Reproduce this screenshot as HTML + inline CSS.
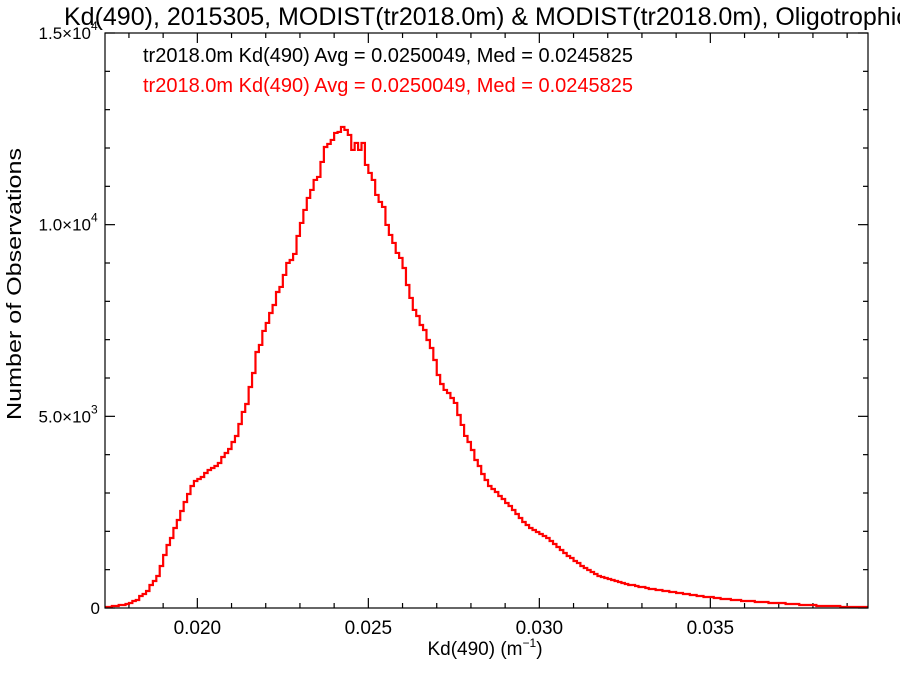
<!DOCTYPE html>
<html><head><meta charset="utf-8"><style>
html,body{margin:0;padding:0;background:#fff;overflow:hidden;}
svg{display:block;font-family:"Liberation Sans",Arial,sans-serif;}
</style></head><body>
<svg id="chart" width="900" height="675" viewBox="0 0 900 675">
<text x="64" y="25" font-size="25" fill="#000">Kd(490), 2015305, MODIST(tr2018.0m) &amp; MODIST(tr2018.0m), Oligotrophic</text>
<text x="143" y="62" font-size="20" fill="#000">tr2018.0m Kd(490) Avg = 0.0250049, Med = 0.0245825</text>
<text x="143" y="92" font-size="20" fill="#ff0000">tr2018.0m Kd(490) Avg = 0.0250049, Med = 0.0245825</text>
<text x="485" y="655" font-size="19" text-anchor="middle">Kd(490) (m<tspan font-size="12" dy="-8">−1</tspan><tspan dy="8">)</tspan></text>
<text transform="translate(21,284) rotate(-90)" font-size="20" text-anchor="middle" textLength="272" lengthAdjust="spacingAndGlyphs">Number of Observations</text>
<g id="axes"></g>
<path id="hist" fill="none" stroke="#ff0000" stroke-width="2.2"></path>
<rect x="105" y="33" width="763" height="575" fill="none" stroke="#000" stroke-width="1.2"></rect>
</svg>
<script>
const binStart = 0.0173;
const binWidth = 0.0001;
const counts = [26,26,52,52,78,78,104,130,183,209,
313,365,443,600,704,835,1096,1383,1644,1826,
2087,2296,2531,2766,2974,3183,3313,3366,3418,3522,
3600,3653,3705,3783,3940,4044,4148,4331,4487,4800,
5114,5322,5766,6131,6679,6862,7227,7436,7696,7905,
8244,8375,8688,9001,9079,9236,9706,10045,10384,10697,
10906,11167,11245,11636,12027,12106,12210,12393,12419,12549,
12471,12341,11949,12132,11949,12132,11558,11349,11167,10775,
10593,10462,9993,9732,9523,9262,9132,8870,8427,8088,
7775,7618,7383,7253,6992,6783,6470,6079,5844,5688,
5609,5479,5349,5035,4775,4488,4331,4122,3861,3705,
3496,3340,3183,3105,3026,2922,2844,2739,2661,2557,
2453,2348,2244,2165,2087,2035,1983,1931,1878,1826,
1748,1670,1591,1513,1435,1357,1305,1226,1174,1096,
1044,991,939,887,835,809,783,757,730,704,
678,652,626,600,600,574,548,548,522,496,
496,470,470,443,443,417,417,391,391,365,
365,339,339,313,313,287,287,287,261,261,
235,235,235,209,209,209,183,183,183,183,
157,157,157,157,130,130,130,130,130,104,
104,104,104,78,78,78,78,78,52,52,
52,52,52,52,52,26,26,26,26,26,26,26,26];
const xTickVals = [0.020,0.025,0.030,0.035];
const xTickLabels = ["0.020","0.025","0.030","0.035"];
const yTickVals = [0,5000,10000,15000];
const yTickMant = ["0","5.0","1.0","1.5"];
const yTickExp = ["","3","4","4"];

const L=105,R=868,T=33,B=608;
const xMin=0.0173,xMax=0.03961,yMin=0,yMax=15000;
const xs=v=>L+(v-xMin)/(xMax-xMin)*(R-L);
const ys=v=>B-(v-yMin)/(yMax-yMin)*(B-T);
const NS="http://www.w3.org/2000/svg";
const axes=document.getElementById('axes');
function line(x1,y1,x2,y2,name){
  const l=document.createElementNS(NS,'line');
  l.setAttribute('x1',x1);l.setAttribute('y1',y1);l.setAttribute('x2',x2);l.setAttribute('y2',y2);
  l.setAttribute('stroke','#000');l.setAttribute('stroke-width','1.2');
  
  
  axes.appendChild(l);
}
for(let k=18;k<=39;k++){
  const v=k/1000; const x=xs(v); if(x<L||x>R) continue;
  const major = k%5===0; const len = major?10:5;
  line(x,B,x,B-len,'x-tick');
  line(x,T,x,T+len,'x-tick-top');
}
xTickVals.forEach((v,i)=>{
  const t=document.createElementNS(NS,'text');
  t.setAttribute('x',xs(v));t.setAttribute('y',B+26);t.setAttribute('font-size','19');t.setAttribute('text-anchor','middle');
  t.textContent=xTickLabels[i];
  
  
  axes.appendChild(t);
});
for(let v=0;v<=15000;v+=1000){
  const y=ys(v); const major=v%5000===0; const len=major?10:5;
  line(L,y,L+len,y,'y-tick');
  line(R,y,R-len,y,'y-tick-right');
}
yTickVals.forEach((v,i)=>{
  const t=document.createElementNS(NS,'text');
  t.setAttribute('x',yTickExp[i]?91:100);t.setAttribute('y',ys(v)+6);t.setAttribute('font-size','17');t.setAttribute('text-anchor','end');
  t.textContent = yTickMant[i] + (yTickExp[i]?'×10':'');
  
  
  axes.appendChild(t);
  if(yTickExp[i]){
    const e=document.createElementNS(NS,'text');
    e.setAttribute('x',91);e.setAttribute('y',ys(v)-3);e.setAttribute('font-size','12');
    e.textContent=yTickExp[i];
    
    
    axes.appendChild(e);
  }
});
let d='';
counts.forEach((c,i)=>{
  const x0=xs(binStart+i*binWidth), x1=xs(binStart+(i+1)*binWidth);
  const xa=Math.max(L,Math.min(R,x0)), xb=Math.max(L,Math.min(R,x1));
  const y=ys(c);
  d += (i===0?'M':'L')+xa.toFixed(2)+','+y.toFixed(2)+' L'+xb.toFixed(2)+','+y.toFixed(2)+' ';
});
document.getElementById('hist').setAttribute('d',d);
</script>
</body></html>
